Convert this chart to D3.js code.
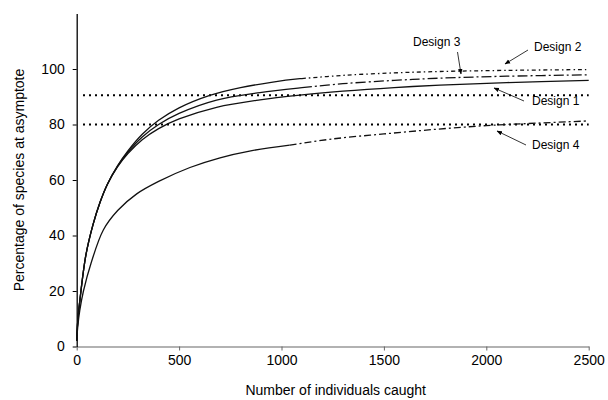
<!DOCTYPE html>
<html>
<head>
<meta charset="utf-8">
<script src="https://cdn.jsdelivr.net/npm/d3@7"></script>
<style>
  html, body { margin: 0; padding: 0; background: #fff; }
  text { font-family: "Liberation Sans", Arial, sans-serif; fill: #000; }
</style>
</head>
<body>
<svg id="chart" width="608" height="400"></svg>
<script>
// Accumulation curves: [individuals caught, % of species at asymptote]
const design1 = [[0,2],[5,9],[16,17],[45,33],[80,44],[114,52],[150,58.5],[200,64.8],[250,69.5],[320,74.5],[400,78.5],[500,82],[683,86.2],[895,88.9],[1090,90.6],[1300,92],[1550,93.3],[1774,94.2],[2100,95.1],[2500,95.9]];
const design2 = [[0,2],[5,9],[16,17],[45,33],[80,44],[114,52],[150,58.5],[200,65.2],[250,70.5],[320,76.5],[400,81.5],[500,86],[650,90.5],[800,93.3],[950,95.2],[1090,96.5],[1300,97.7],[1550,98.6],[1774,99.1],[2100,99.5],[2500,99.8]];
const design3 = [[0,2],[5,9],[16,17],[45,33],[80,44],[114,52],[150,58.5],[200,65],[250,70],[320,75.5],[400,80],[500,84],[683,88.8],[895,91.5],[1090,93.2],[1300,94.7],[1550,95.9],[1774,96.7],[2100,97.4],[2500,97.9]];
const design4 = [[0,2],[5,7],[15,13],[33,20],[70,30],[130,42],[200,49],[293,55],[400,59.5],[553,64.5],[700,68],[850,70.5],[1041,72.6],[1250,74.8],[1500,76.6],[1758,78.3],[2000,79.6],[2250,80.5],[2500,81.3]];

// Where each curve switches from a solid to a broken line
const breakAt = { d1: 2500, d2: 1100, d3: 1100, d4: 1040 };

// Horizontal reference levels
const refLevels = [90.5, 80];

const xTicks = [0, 500, 1000, 1500, 2000, 2500];
const yTicks = [0, 20, 40, 60, 80, 100];

const svg = d3.select("#chart");

const x = d3.scaleLinear().domain([0, 2500]).range([76.7, 588.7]);
const y = d3.scaleLinear().domain([0, 120]).range([346.5, 13.5]);

// Axes
const xAxis = svg.append("g")
  .attr("transform", `translate(0,${y(0)})`)
  .call(d3.axisBottom(x).tickValues(xTicks).tickFormat(d3.format("d"))
    .tickSize(4).tickSizeOuter(0).tickPadding(5));
xAxis.select(".domain").attr("stroke", "#666").attr("stroke-width", 1.2);
xAxis.selectAll(".tick line").attr("stroke", "#666");
xAxis.selectAll("text").attr("font-size", 14).attr("font-family", "Liberation Sans, Arial, sans-serif");

const yAxis = svg.append("g")
  .attr("transform", `translate(${x(0)},0)`)
  .call(d3.axisLeft(y).tickValues(yTicks).tickFormat(d3.format("d"))
    .tickSize(4).tickSizeOuter(0).tickPadding(8));
yAxis.select(".domain").attr("stroke", "#000").attr("stroke-width", 1.3);
yAxis.selectAll("text").attr("font-size", 14).attr("font-family", "Liberation Sans, Arial, sans-serif");

// Axis titles
svg.append("text")
  .attr("x", (x(0) + x(2500)) / 2 + 3).attr("y", 395)
  .attr("text-anchor", "middle").attr("font-size", 14)
  .text("Number of individuals caught");

svg.append("text")
  .attr("transform", `translate(24,${(y(0) + y(120)) / 2}) rotate(-90)`)
  .attr("text-anchor", "middle").attr("font-size", 14)
  .text("Percentage of species at asymptote");

// Reference lines
svg.selectAll(".ref").data(refLevels).enter().append("line")
  .attr("x1", 83).attr("x2", x(2500))
  .attr("y1", d => y(d)).attr("y2", d => y(d))
  .attr("stroke", "#000").attr("stroke-width", 2)
  .attr("stroke-dasharray", "2,4");

// Curves
const line = d3.line().x(d => x(d[0])).y(d => y(d[1])).curve(d3.curveCatmullRom.alpha(0.5));

function splitAt(data, bx) {
  const interp = (a, b) => {
    const t = (bx - a[0]) / (b[0] - a[0]);
    return [bx, a[1] + t * (b[1] - a[1])];
  };
  const head = [], tail = [];
  for (let i = 0; i < data.length; i++) {
    const p = data[i];
    if (p[0] <= bx) head.push(p);
    if (p[0] >= bx) tail.push(p);
    if (i > 0 && data[i - 1][0] < bx && p[0] > bx) {
      const q = interp(data[i - 1], p);
      head.push(q);
      tail.unshift(q);
    }
  }
  return [head, tail];
}

const series = [
  { data: design4, brk: breakAt.d4, dash: "7,3,2,3" },
  { data: design1, brk: breakAt.d1, dash: null },
  { data: design3, brk: breakAt.d3, dash: "10,3,2,3" },
  { data: design2, brk: breakAt.d2, dash: "4,3,1.5,3" }
];

series.forEach(s => {
  const [head, tail] = splitAt(s.data, s.brk);
  svg.append("path").datum(head)
    .attr("d", line).attr("fill", "none")
    .attr("stroke", "#111").attr("stroke-width", 1.3);
  if (tail.length > 1 && s.dash) {
    svg.append("path").datum(tail)
      .attr("d", line).attr("fill", "none")
      .attr("stroke", "#111").attr("stroke-width", 1.3)
      .attr("stroke-dasharray", s.dash);
  }
});

// Arrowhead marker for annotations
svg.append("defs").append("marker")
  .attr("id", "arrow").attr("viewBox", "0 0 10 10")
  .attr("refX", 9).attr("refY", 5)
  .attr("markerWidth", 7).attr("markerHeight", 7)
  .attr("orient", "auto")
  .append("path").attr("d", "M0,1 L10,5 L0,9 Z").attr("fill", "#000");

const notes = [
  { label: "Design 3", tx: 413, ty: 46, x1: 457.5, y1: 52, x2: 461, y2: 74 },
  { label: "Design 2", tx: 534, ty: 51, x1: 528, y1: 50, x2: 505, y2: 64 },
  { label: "Design 1", tx: 532, ty: 105, x1: 524, y1: 101, x2: 494, y2: 88 },
  { label: "Design 4", tx: 532, ty: 149, x1: 526, y1: 145, x2: 497, y2: 131 }
];

notes.forEach(n => {
  svg.append("line")
    .attr("x1", n.x1).attr("y1", n.y1).attr("x2", n.x2).attr("y2", n.y2)
    .attr("stroke", "#000").attr("stroke-width", 0.8)
    .attr("marker-end", "url(#arrow)");
  svg.append("text")
    .attr("x", n.tx).attr("y", n.ty)
    .attr("font-size", 12)
    .text(n.label);
});
</script>
</body>
</html>
